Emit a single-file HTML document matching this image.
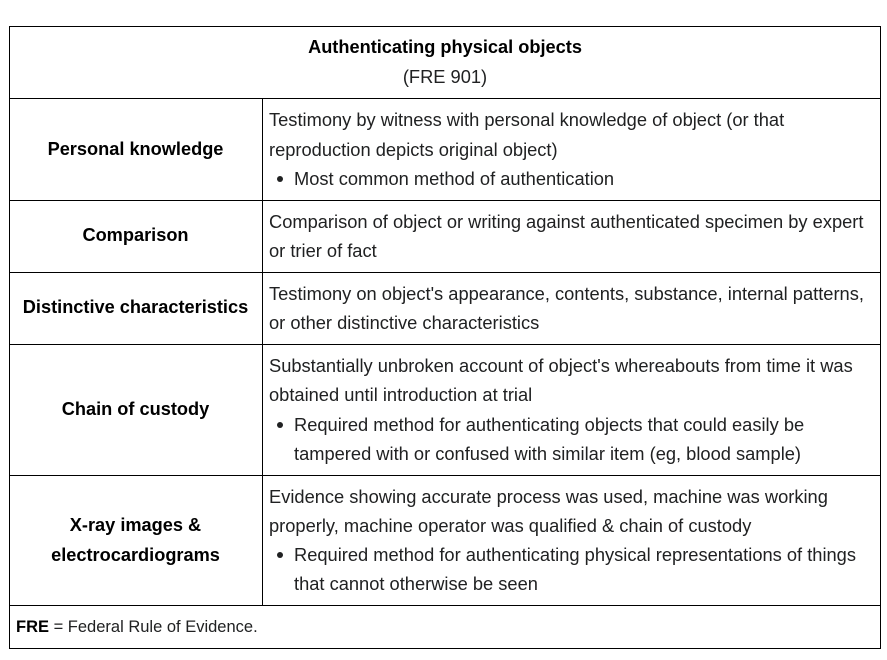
<!DOCTYPE html>
<html><head><style>
body{margin:0;width:887px;height:660px;background:#fff;font-family:"Liberation Sans",Arial,sans-serif;color:#202122;position:relative;overflow:hidden}
.h{position:absolute;background:#000;height:1px}
.v{position:absolute;background:#000;width:1px}
.t{position:absolute;font-size:18.3px;line-height:29.5px;white-space:nowrap}
.b{font-weight:bold;color:#000}
.l{position:absolute;left:9px;width:253px;text-align:center;font-size:18.2px;font-weight:bold;color:#000;line-height:29.5px}
.dot{position:absolute;width:6px;height:6px;border-radius:50%;background:#202122}
</style></head><body>
<div class="h" style="left:9px;width:872px;top:26px"></div>
<div class="h" style="left:9px;width:872px;top:98px"></div>
<div class="h" style="left:9px;width:872px;top:200px"></div>
<div class="h" style="left:9px;width:872px;top:272px"></div>
<div class="h" style="left:9px;width:872px;top:344px"></div>
<div class="h" style="left:9px;width:872px;top:475px"></div>
<div class="h" style="left:9px;width:872px;top:605px"></div>
<div class="h" style="left:9px;width:872px;top:648px"></div>
<div class="v" style="left:9px;top:26px;height:623px"></div>
<div class="v" style="left:880px;top:26px;height:623px"></div>
<div class="v" style="left:262px;top:98px;height:507px"></div>

<div class="t b" style="left:9px;width:872px;text-align:center;top:33px;font-size:18.2px">Authenticating physical objects</div>
<div class="t" style="left:9px;width:872px;text-align:center;top:62px">(FRE 901)</div>

<div class="l" style="top:135px">Personal knowledge</div>
<div class="t" style="left:269px;top:105px">Testimony by witness with personal knowledge of object (or that</div>
<div class="t" style="left:269px;top:135px">reproduction depicts original object)</div>
<div class="dot" style="left:277px;top:176px"></div>
<div class="t" style="left:294px;top:164px">Most common method of authentication</div>

<div class="l" style="top:221px">Comparison</div>
<div class="t" style="left:269px;top:207px">Comparison of object or writing against authenticated specimen by expert</div>
<div class="t" style="left:269px;top:236px">or trier of fact</div>

<div class="l" style="top:293px">Distinctive characteristics</div>
<div class="t" style="left:269px;top:279px">Testimony on object's appearance, contents, substance, internal patterns,</div>
<div class="t" style="left:269px;top:308px">or other distinctive characteristics</div>

<div class="l" style="top:395px">Chain of custody</div>
<div class="t" style="left:269px;top:351px">Substantially unbroken account of object's whereabouts from time it was</div>
<div class="t" style="left:269px;top:380px">obtained until introduction at trial</div>
<div class="dot" style="left:277px;top:422px"></div>
<div class="t" style="left:294px;top:410px">Required method for authenticating objects that could easily be</div>
<div class="t" style="left:294px;top:439px">tampered with or confused with similar item (eg, blood sample)</div>

<div class="l" style="top:511px">X-ray images &amp;<br>electrocardiograms</div>
<div class="t" style="left:269px;top:482px">Evidence showing accurate process was used, machine was working</div>
<div class="t" style="left:269px;top:511px">properly, machine operator was qualified &amp; chain of custody</div>
<div class="dot" style="left:277px;top:552px"></div>
<div class="t" style="left:294px;top:540px">Required method for authenticating physical representations of things</div>
<div class="t" style="left:294px;top:569px">that cannot otherwise be seen</div>

<div class="t" style="left:16px;top:613px;font-size:16.5px"><b style="color:#000">FRE</b> = Federal Rule of Evidence.</div>
</body></html>
